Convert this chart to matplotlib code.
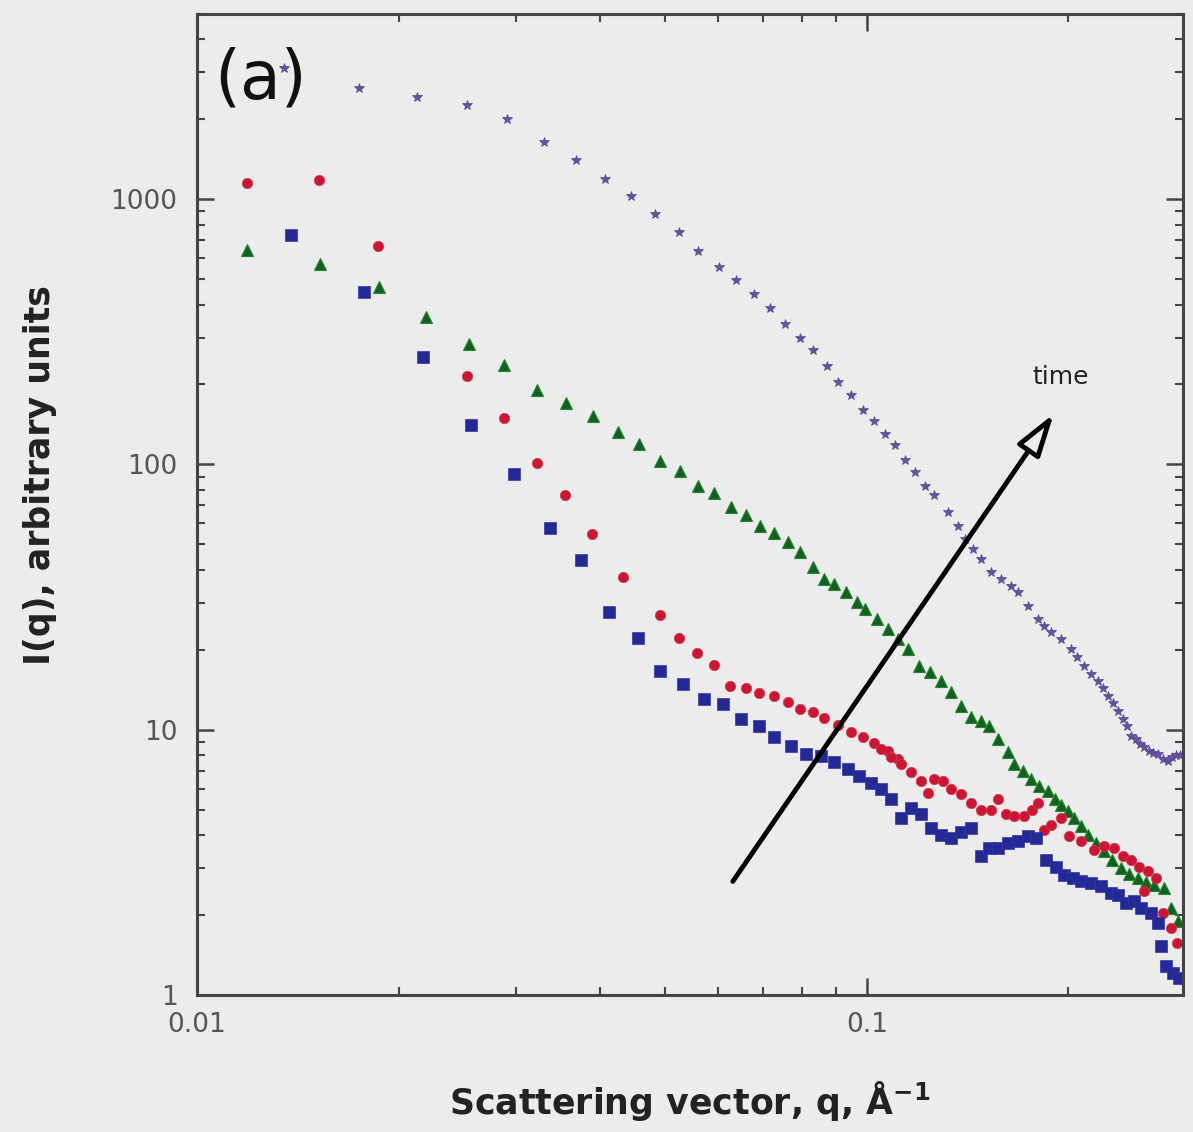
import matplotlib.pyplot as plt
from matplotlib.ticker import FixedLocator, LogLocator, NullFormatter

plt.rcParams['font.family'] = ['DejaVu Sans']

# purple series (latest time), small star markers
q_purple = [0.01348, 0.01745, 0.02130, 0.02530, 0.02902, 0.03295, 0.03679, 0.04064,
            0.04444, 0.04827, 0.05241, 0.05605, 0.06015, 0.06376, 0.06783, 0.07165,
            0.07543, 0.07943, 0.08326, 0.08716, 0.09071, 0.09465, 0.09863, 0.1024,
            0.1064, 0.1101, 0.1140, 0.1179, 0.1221, 0.1259, 0.1321, 0.1367, 0.1404,
            0.1439, 0.1480, 0.1532, 0.1585, 0.1640, 0.1680, 0.1739, 0.1800, 0.1837,
            0.1882, 0.1948, 0.2016, 0.2058, 0.2108, 0.2159, 0.2212, 0.2250, 0.2290,
            0.2329, 0.2370, 0.2411, 0.2444, 0.2477, 0.2521, 0.2556, 0.2590, 0.2636,
            0.2673, 0.2718, 0.2766, 0.2813, 0.2853, 0.2892, 0.2932]
I_purple = [3110, 2615, 2418, 2256, 2000, 1640, 1400, 1190,
            1026, 878, 751, 637, 555, 496, 439, 389,
            339, 300, 270, 234, 205, 182, 160, 146,
            130, 118, 103.5, 93.3, 82.7, 76.5, 66.0, 58.5, 52.3,
            47.9, 44.0, 39.3, 37.0, 34.8, 33.0, 29.3, 26.1, 24.6,
            23.4, 22.0, 20.2, 18.8, 17.4, 16.2, 15.2, 14.3, 13.4,
            12.6, 11.8, 11.0, 10.3, 9.5, 9.25, 8.86, 8.6, 8.34,
            8.19, 8.1, 7.78, 7.6, 7.9, 8.0, 8.05]

# red series, circles
q_red = [0.01187, 0.01521, 0.01863, 0.02529, 0.02872, 0.03217, 0.03543, 0.03887,
         0.04323, 0.04910, 0.05241, 0.05577, 0.05912, 0.06245, 0.06599, 0.06901,
         0.07264, 0.07622, 0.07960, 0.08307, 0.08627, 0.09051, 0.09465, 0.09863,
         0.1024, 0.1075, 0.1113, 0.1049, 0.1086, 0.1124, 0.1163, 0.1204, 0.1233,
         0.1259, 0.1298, 0.1335, 0.1381, 0.1430, 0.1480, 0.1532, 0.1569, 0.1613,
         0.1657, 0.1715, 0.1763, 0.1800, 0.1837, 0.1882, 0.1948, 0.2002, 0.2086,
         0.2182, 0.2259, 0.2337, 0.2411, 0.2477, 0.2547, 0.2627, 0.2700, 0.2590,
         0.2766, 0.2843, 0.2902]
I_red = [1149, 1179, 666, 216, 150, 100.9, 76.5, 54.6,
         37.6, 27.1, 22.2, 19.5, 17.6, 14.6, 14.3, 13.8,
         13.4, 12.7, 12.0, 11.7, 11.1, 10.4, 9.83, 9.41,
         8.94, 8.34, 7.78, 8.48, 7.91, 7.45, 6.95, 6.43, 5.75,
         6.54, 6.38, 6.00, 5.70, 5.31, 5.00, 4.96, 5.46, 4.83,
         4.71, 4.71, 4.96, 5.31, 4.17, 4.39, 4.63, 3.96, 3.79,
         3.51, 3.63, 3.57, 3.33, 3.22, 3.05, 2.93, 2.75, 2.46,
         2.03, 1.79, 1.57]

# blue series, squares
q_blue = [0.01381, 0.01775, 0.02175, 0.02564, 0.02972, 0.03364, 0.03743, 0.04120,
          0.04552, 0.04921, 0.05314, 0.05712, 0.06098, 0.06486, 0.06901, 0.07264,
          0.07701, 0.08110, 0.08538, 0.08927, 0.09367, 0.09729, 0.1014, 0.1049,
          0.1086, 0.1124, 0.1163, 0.1204, 0.1246, 0.1289, 0.1335, 0.1381, 0.1430,
          0.1480, 0.1521, 0.1569, 0.1623, 0.1680, 0.1739, 0.1788, 0.1850, 0.1915,
          0.1968, 0.2030, 0.2086, 0.2159, 0.2235, 0.2313, 0.2370, 0.2436, 0.2503,
          0.2564, 0.2654, 0.2718, 0.2747, 0.2795, 0.2862, 0.2922]
I_blue = [732, 447, 255, 141, 91.7, 57.5, 43.6, 27.8,
          22.2, 16.7, 14.9, 13.1, 12.5, 11.0, 10.35, 9.41,
          8.71, 8.12, 7.98, 7.58, 7.14, 6.72, 6.27, 6.00,
          5.50, 4.63, 5.05, 4.83, 4.25, 4.00, 3.89, 4.10, 4.25,
          3.33, 3.57, 3.57, 3.73, 3.79, 3.96, 3.89, 3.22, 3.05,
          2.83, 2.75, 2.68, 2.64, 2.57, 2.42, 2.38, 2.22, 2.26,
          2.12, 2.03, 1.87, 1.53, 1.29, 1.21, 1.16]

# green series, triangles
q_green = [0.01187, 0.01526, 0.01869, 0.02197, 0.02546, 0.02872, 0.03217, 0.03551,
           0.03896, 0.04250, 0.04567, 0.04910, 0.05259, 0.05596, 0.05912, 0.06266,
           0.06599, 0.06925, 0.07264, 0.07622, 0.07960, 0.08307, 0.08627, 0.08927,
           0.09305, 0.09663, 0.09932, 0.1035, 0.1075, 0.1113, 0.1151, 0.1196, 0.1242,
           0.1289, 0.1335, 0.1381, 0.1430, 0.1480, 0.1521, 0.1569, 0.1623, 0.1657,
           0.1709, 0.1756, 0.1806, 0.1863, 0.1908, 0.1948, 0.1995, 0.2037, 0.2086,
           0.2137, 0.2197, 0.2259, 0.2321, 0.2394, 0.2460, 0.2538, 0.2609, 0.2682,
           0.2776, 0.2843, 0.2912]
I_green = [643, 570, 467, 360, 283, 236, 191, 170,
           152, 132, 119, 102.6, 94.1, 82.7, 77.8, 68.9,
           64.3, 58.5, 55.0, 50.9, 46.7, 41.0, 37.0, 35.4,
           33.0, 30.3, 28.5, 26.1, 24.0, 22.0, 20.2, 17.4, 16.5,
           15.2, 13.9, 12.3, 11.2, 10.8, 10.35, 9.25, 8.27, 7.45,
           7.01, 6.54, 6.11, 5.85, 5.50, 5.18, 4.92, 4.63, 4.32,
           4.00, 3.73, 3.48, 3.22, 3.00, 2.87, 2.75, 2.66, 2.59,
           2.53, 2.12, 1.90]

bg = '#ececec'
fig = plt.figure(figsize=(11.93, 11.32), dpi=100, facecolor=bg)
ax = fig.add_axes([0.165, 0.121, 0.827, 0.867], facecolor=bg)

ax.plot(q_purple, I_purple, ls='none', marker='*', ms=7, color='#6552a6', mec='#54468a', mew=0.5)
ax.plot(q_green, I_green, ls='none', marker='^', ms=8.5, color='#14601f', mec='#1e8a2c', mew=0.8)
ax.plot(q_red, I_red, ls='none', marker='o', ms=7.5, color='#cc1533', mec='#d83a50', mew=0.5)
ax.plot(q_blue, I_blue, ls='none', marker='s', ms=8, color='#232a96', mec='#2f36b0', mew=0.5)

ax.set_xscale('log')
ax.set_yscale('log')
ax.set_xlim(0.01, 0.297)
ax.set_ylim(1, 5000)

ax.xaxis.set_major_locator(FixedLocator([0.01, 0.1]))
ax.set_xticklabels(['0.01', '0.1'])
ax.yaxis.set_major_locator(FixedLocator([1, 10, 100, 1000]))
ax.set_yticklabels(['1', '10', '100', '1000'])
ax.xaxis.set_minor_locator(LogLocator(base=10, subs=range(2, 10)))
ax.yaxis.set_minor_locator(LogLocator(base=10, subs=range(2, 10)))
ax.xaxis.set_minor_formatter(NullFormatter())
ax.yaxis.set_minor_formatter(NullFormatter())

ax.tick_params(which='both', direction='in', top=True, right=True, color='#444444')
ax.tick_params(which='major', length=12, width=1.8, labelsize=19, labelcolor='#555555')
ax.tick_params(which='minor', length=6, width=1.5)
ax.tick_params(axis='y', which='major', pad=14)
ax.tick_params(axis='x', which='major', pad=12)
for s in ax.spines.values():
    s.set_color('#444444')
    s.set_linewidth(2.2)

ax.set_xlabel('Scattering vector, q, Å$^{\\mathbf{-1}}$', fontsize=25, fontweight='bold', color='#222222')
ax.set_ylabel('I(q), arbitrary units', fontsize=25, fontweight='bold', color='#222222')
ax.xaxis.set_label_coords(0.5, -0.086)
ax.yaxis.set_label_coords(-0.142, 0.53)

ax.text(0.018, 0.966, '(a)', transform=ax.transAxes, fontsize=48, ha='left', va='top', color='#111111')

ax.annotate('', xy=(0.1902, 155), xytext=(0.0631, 2.68),
            arrowprops=dict(arrowstyle='-|>,head_length=2.6,head_width=0.8', lw=3.5,
                            color='black', fc=bg, shrinkA=0, shrinkB=0))
ax.text(0.1948, 214, 'time', fontsize=18, ha='center', va='center', color='#222222')

fig.savefig('out.png', dpi=100, facecolor=bg)
